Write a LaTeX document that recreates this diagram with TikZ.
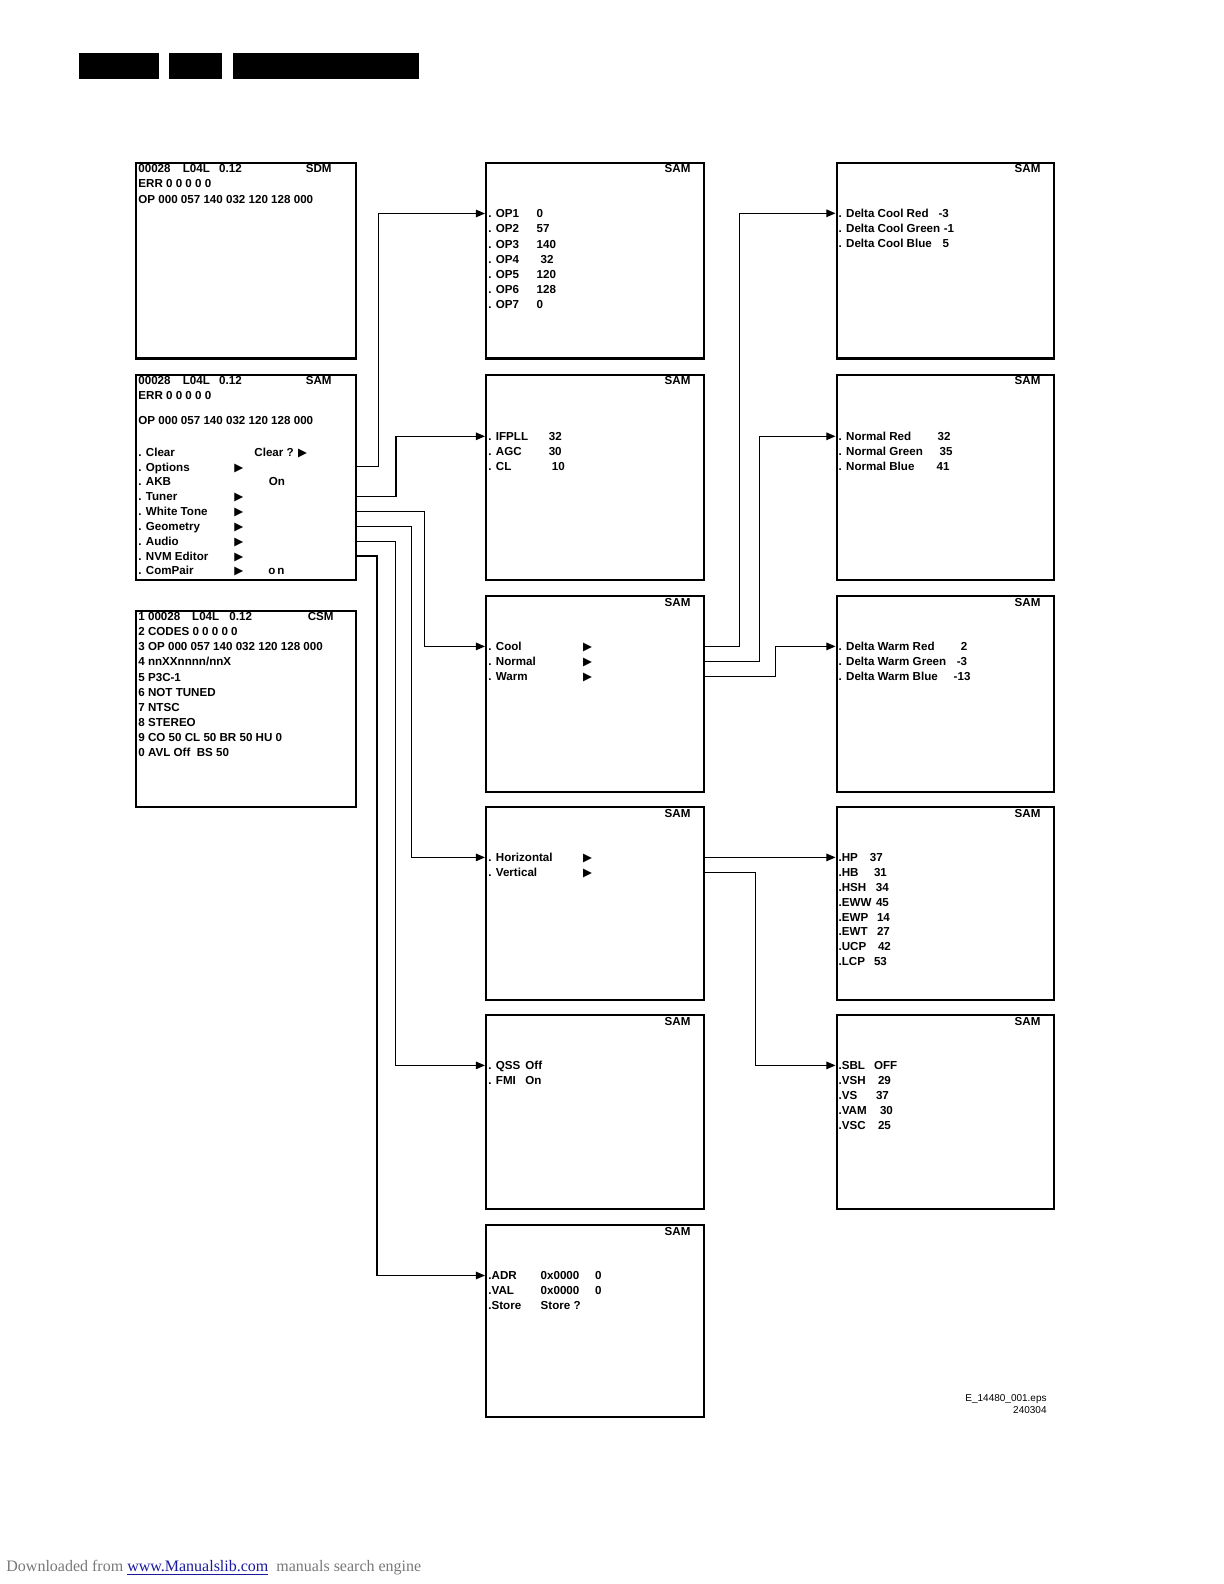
\documentclass[tikz,border=0pt]{standalone}
\usepackage{fontspec}
\setmainfont{Liberation Sans}
\newfontfamily\symfont{DejaVu Sans}
\newfontfamily\webfont{Liberation Serif}
\usepackage{xcolor}
\usetikzlibrary{arrows.meta,positioning,calc}

\definecolor{linkblue}{RGB}{25,25,160}
\definecolor{footgray}{RGB}{120,120,120}

\newcommand{\tri}{{\symfont ▶}}

\tikzset{
  screen/.style={draw, line width=1.2pt, inner sep=0pt, anchor=north west},
  item/.style={anchor=west, inner sep=0pt, text height=4.15pt, text depth=0pt,
    font=\fontsize{5.8}{7}\selectfont\bfseries},
  mode/.style={item, anchor=east},
  conn/.style={line width=0.6pt, ->},
  >={Triangle[length=4.6pt,width=3.8pt]}
}

\begin{document}
\begin{tikzpicture}[x=0.5pt, y=-0.5pt]
\useasboundingbox (0,0) rectangle (1224,1584);

% header bars
\fill (78.8,53.5) rectangle (158.6,78.8);
\fill (168.7,53.5) rectangle (222.2,78.8);
\fill (233.3,53.5) rectangle (419.1,78.8);

% screens
\node[screen, minimum width=110pt, minimum height=97.8pt] (sdm) at (134.5,161.8) {};
\node[screen, minimum width=110pt, minimum height=102.75pt] (sam) at (134.5,373.5) {};
\node[screen, minimum width=110pt, minimum height=98pt] (csm) at (134.5,609.5) {};
\node[screen, minimum width=109pt, minimum height=97.8pt] (opts) at (485,161.8) {};
\node[screen, minimum width=109pt, minimum height=102.75pt] (tuner) at (485,373.5) {};
\node[screen, minimum width=109pt, minimum height=98pt] (white) at (485,595) {};
\node[screen, minimum width=109pt, minimum height=96.5pt] (geom) at (485,806) {};
\node[screen, minimum width=109pt, minimum height=97pt] (audio) at (485,1014) {};
\node[screen, minimum width=109pt, minimum height=96pt] (nvm) at (485,1224) {};
\node[screen, minimum width=108.75pt, minimum height=97.8pt] (cool) at (835.5,161.8) {};
\node[screen, minimum width=108.75pt, minimum height=102.75pt] (normal) at (835.5,373.5) {};
\node[screen, minimum width=108.75pt, minimum height=98pt] (warm) at (835.5,595) {};
\node[screen, minimum width=108.75pt, minimum height=96.5pt] (horiz) at (835.5,806) {};
\node[screen, minimum width=108.75pt, minimum height=97pt] (vert) at (835.5,1014) {};

% mode labels
\node[mode] (sdmMode) at (332,168) {SDM};
\node[mode] (samMode) at (332,380) {SAM};
\node[mode] (csmMode) at (334,616.5) {CSM};
\foreach \bx in {opts,tuner,white,geom,audio,nvm,cool,normal,warm,horiz,vert}
  \node[mode] (\bx Mode) at ($(\bx.north east)+(-14.5,7)$) {SAM};

% SDM screen
\node[item] (sdmId) at (138,168) {\makebox[22.2pt][l]{00028}\makebox[18.2pt][l]{L04L}0.12};
\node[item] (sdmErr) at (138,183.5) {ERR 0 0 0 0 0};
\node[item] (sdmOp) at (138,199) {OP 000 057 140 032 120 128 000};

% SAM main screen
\node[item] (samId) at (138,380) {\makebox[22.2pt][l]{00028}\makebox[18.2pt][l]{L04L}0.12};
\node[item] (samErr) at (138,395) {ERR 0 0 0 0 0};
\node[item] (samOp) at (138,420.5) {OP 000 057 140 032 120 128 000};
\foreach \nm/\lbl/\val [count=\i from 0] in {clear/Clear/, options/Options/\tri, akb/AKB/,
    tune/Tuner/\tri, wtone/White Tone/\tri, geo/Geometry/\tri, aud/Audio/\tri,
    nvmed/NVM Editor/\tri, compair/ComPair/\tri}
  \node[item] (\nm) at (138,452+14.85*\i) {\makebox[48pt][l]{. \lbl}\val};
\node[item] (clearVal) at (254,452) {Clear ? \tri};
\node[item] (akbVal) at (268.5,481.7) {On};
\node[item] (compairVal) at (268,570.8) {o\,n};

% CSM screen
\foreach \txt [count=\i from 0] in {{\makebox[26.9pt][l]{1 00028}\makebox[18.65pt][l]{L04L}0.12},
    {2 CODES 0 0 0 0 0}, {3 OP 000 057 140 032 120 128 000}, {4 nnXXnnnn/nnX},
    {5 P3C-1}, {6 NOT TUNED}, {7 NTSC}, {8 STEREO}, {9 CO 50 CL 50 BR 50 HU 0},
    {0 AVL Off\ \ BS 50}}
  \node[item] (csm\i) at (138,616.5+15.1*\i) {\txt};

% option bytes
\foreach \lbl/\val [count=\i from 0] in {OP1/0, OP2/57, OP3/140, OP4/\hspace{2pt}32,
    OP5/120, OP6/128, OP7/0}
  \node[item] (op\i) at (488,213.5+15.2*\i) {\makebox[24.15pt][l]{. \lbl}\val};

% tuner
\foreach \lbl/\val [count=\i from 0] in {IFPLL/32, AGC/30, CL/\hspace{1.5pt}10}
  \node[item] (tun\i) at (488,436.3+15.15*\i) {\makebox[30.2pt][l]{. \lbl}\val};

% white tone
\foreach \lbl [count=\i from 0] in {Cool, Normal, Warm}
  \node[item] (wt\i) at (488,646.4+15.15*\i) {\makebox[47.35pt][l]{. \lbl}\tri};

% geometry
\foreach \lbl [count=\i from 0] in {Horizontal, Vertical}
  \node[item] (geo\i) at (488,857.4+15.1*\i) {\makebox[47.35pt][l]{. \lbl}\tri};

% audio
\foreach \lbl/\val [count=\i from 0] in {QSS/Off, FMI/On}
  \node[item] (aud\i) at (488,1065.4+15.1*\i) {\makebox[18.5pt][l]{. \lbl}\val};

% NVM editor
\foreach \lbl/\adr/\val [count=\i from 0] in {ADR/0x0000/0, VAL/0x0000/0, Store/Store ?/}
  \node[item] (nv\i) at (488,1275.5+15.15*\i) {\makebox[26.15pt][l]{.\lbl}\makebox[27.2pt][l]{\adr}\val};

% delta cool
\foreach \lbl/\w/\val [count=\i from 0] in {Delta Cool Red/50/-3, Delta Cool Green/52.6/-1,
    Delta Cool Blue/52/5}
  \node[item] (cl\i) at (838.2,213.3+15.1*\i) {\makebox[\w pt][l]{. \lbl}\val};

% normal
\foreach \lbl/\w/\val [count=\i from 0] in {Normal Red/49.5/32, Normal Green/50.5/35,
    Normal Blue/49/41}
  \node[item] (nm\i) at (838.2,436.3+15.15*\i) {\makebox[\w pt][l]{. \lbl}\val};

% delta warm
\foreach \lbl/\w/\val [count=\i from 0] in {Delta Warm Red/61.1/2, Delta Warm Green/59.1/-3,
    Delta Warm Blue/57.55/-13}
  \node[item] (wm\i) at (838.2,646.4+15.15*\i) {\makebox[\w pt][l]{. \lbl}\val};

% horizontal
\foreach \lbl/\w/\val [count=\i from 0] in {HP/15.65/37, HB/17.7/31, HSH/18.7/34, EWW/18.7/45,
    EWP/19.2/14, EWT/19.2/27, UCP/19.7/42, LCP/17.7/53}
  \node[item] (hz\i) at (838.2,857.4+14.86*\i) {\makebox[\w pt][l]{.\lbl}\val};

% vertical
\foreach \lbl/\w/\val [count=\i from 0] in {SBL/17.7/OFF, VSH/19.7/29, VS/18.7/37, VAM/20.7/30,
    VSC/19.7/25}
  \node[item] (vt\i) at (838.2,1065.4+14.9*\i) {\makebox[\w pt][l]{.\lbl}\val};

% bus lines
\coordinate (optBus) at (378.5,0);
\coordinate (tunBus) at (396,0);
\coordinate (wtBus) at (424.5,0);
\coordinate (geoBus) at (411.5,0);
\coordinate (audBus) at (395.5,0);
\coordinate (nvmBus) at (377,0);
\coordinate (coolBus) at (739.3,0);
\coordinate (normBus) at (759.7,0);
\coordinate (warmBus) at (775.8,0);
\coordinate (vertBus) at (755.4,0);

\draw[conn] (sam.east |- options) -| (optBus |- op0) -- (opts.west |- op0);
\draw[conn] (sam.east |- tune) -| (tunBus |- tun0) -- (tuner.west |- tun0);
\draw[conn] (sam.east |- wtone) -| (wtBus |- wt0) -- (white.west |- wt0);
\draw[conn] (sam.east |- geo) -| (geoBus |- geo0) -- (geom.west |- geo0);
\draw[conn] (sam.east |- aud) -| (audBus |- aud0) -- (audio.west |- aud0);
\draw[conn] (sam.east |- nvmed) -| (nvmBus |- nv0) -- (nvm.west |- nv0);

\draw[conn] (white.east |- wt0) -| (coolBus |- cl0) -- (cool.west |- cl0);
\draw[conn] (white.east |- wt1) -| (normBus |- nm0) -- (normal.west |- nm0);
\draw[conn] (white.east |- wt2) -| (warmBus |- wm0) -- (warm.west |- wm0);

\draw[conn] (geom.east |- geo0) -- (horiz.west |- geo0);
\draw[conn] (geom.east |- geo1) -| (vertBus |- vt0) -- (vert.west |- vt0);

% file label
\node[anchor=east, inner sep=0pt, font=\fontsize{5}{6}\selectfont] (epsName) at (1047,1399) {E\_14480\_001.eps};
\node[anchor=east, inner sep=0pt, font=\fontsize{5}{6}\selectfont] (epsDate) at (1047,1410) {240304};

% footer
\node[anchor=base west, inner sep=0pt, font=\webfont\fontsize{8}{10}\selectfont, text=footgray] (footer) at (6,1571)
  {Downloaded from \textcolor{linkblue}{\underline{www.Manualslib.com}}\ \ manuals search engine};
\end{tikzpicture}
\end{document}
